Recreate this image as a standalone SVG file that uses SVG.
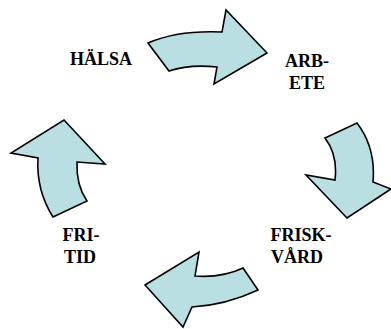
<svg xmlns="http://www.w3.org/2000/svg" width="391" height="329" viewBox="0 0 391 329">
<style>
.arr{fill:#b9dfe2;stroke:#000;stroke-width:1.6;stroke-linejoin:miter}
.lbl{font-family:"Liberation Serif","Times New Roman",serif;font-weight:bold;font-size:18px;fill:#000;text-anchor:middle}
</style>
<rect width="391" height="329" fill="#fff"/>
<g id="connectors">
<path id="arrow-top" class="arr" d="M148,43 Q178,30 222,32 L226,10 L267,53 L214,84 L217,67 Q190,64 169,71 Z"/>
<path id="arrow-right" class="arr" d="M325,138 L357,123 Q376,148 373,182 L391,189 L347,218 L306,175 L335,180 Q338,155 325,138 Z"/>
<path id="arrow-bottom" class="arr" d="M243,268 L258,290 Q226,305 192,307 L183,327 L145,285 L199,252 L195,276 Q222,278 243,268 Z"/>
<path id="arrow-left" class="arr" d="M53,217 L87,201 Q76,185 77,162 L105,164 L64,120 L11,153 L38,158 Q36,190 53,217 Z"/>
</g>
<g id="halsa"><text class="lbl" x="101" y="65">HÄLSA</text></g>
<g id="arbete"><text class="lbl" x="307" y="67">ARB-</text><text class="lbl" x="307" y="89">ETE</text></g>
<g id="friskvard"><text class="lbl" x="301" y="241">FRISK-</text><text class="lbl" x="297" y="263">VÅRD</text></g>
<g id="fritid"><text class="lbl" x="81" y="241">FRI-</text><text class="lbl" x="80" y="263">TID</text></g>
</svg>
